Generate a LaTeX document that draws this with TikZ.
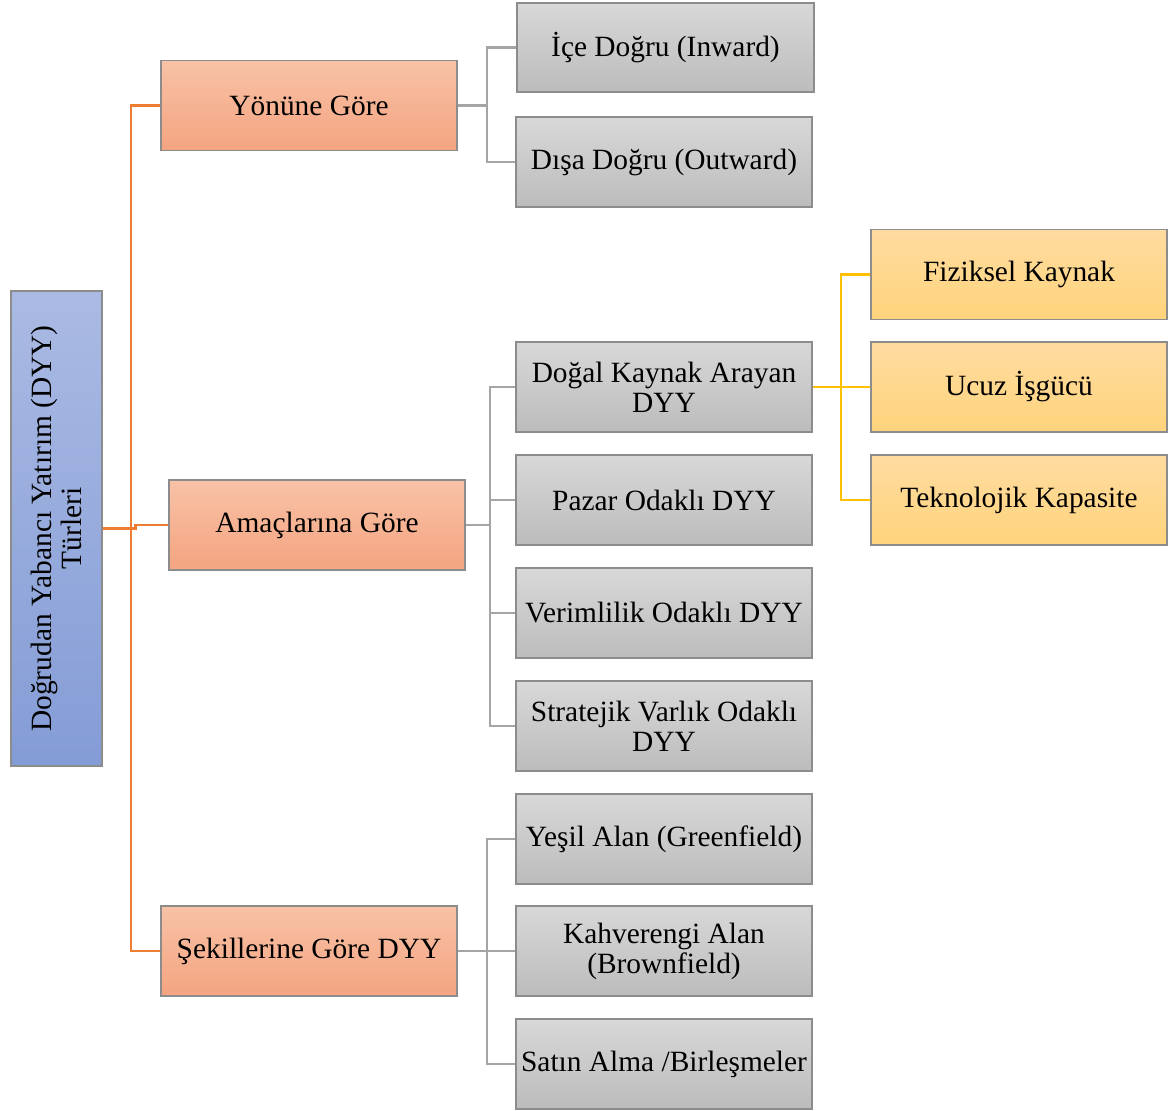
\documentclass[tikz,border=0pt]{standalone}
\usepackage{fontspec}
\setmainfont{Liberation Serif}
\definecolor{bordc}{RGB}{140,140,140}
\definecolor{orTop}{RGB}{248,194,166}
\definecolor{orBot}{RGB}{244,164,128}
\definecolor{grTop}{RGB}{216,216,216}
\definecolor{grBot}{RGB}{188,188,188}
\definecolor{yeTop}{RGB}{255,219,160}
\definecolor{yeBot}{RGB}{255,212,124}
\definecolor{blTop}{RGB}{170,186,227}
\definecolor{blBot}{RGB}{132,156,214}
\definecolor{oLine}{RGB}{237,125,49}
\definecolor{gLine}{RGB}{165,165,165}
\definecolor{yLine}{RGB}{255,192,0}
\tikzset{
  box/.style={draw=bordc, line width=1.5pt, minimum width=296pt, minimum height=90pt,
    align=center, inner sep=2pt, font=\fontsize{29.4}{30}\selectfont},
  obox/.style={box, top color=orTop, bottom color=orBot},
  gbox/.style={box, top color=grTop, bottom color=grBot},
  ybox/.style={box, top color=yeTop, bottom color=yeBot},
  rbox/.style={box, rotate=90, minimum width=475pt, minimum height=91pt,
    top color=blTop, bottom color=blBot},
  oline/.style={draw=oLine, line width=2.8pt},
  gline/.style={draw=gLine, line width=2.8pt},
  yline/.style={draw=yLine, line width=2.8pt},
}
\begin{document}
\begin{tikzpicture}[x=1pt,y=-1pt]
\useasboundingbox (0,0) rectangle (1176,1111);
% root
\node[rbox] (root) at (56.5,528.5) {Doğrudan Yabancı Yatırım (DYY)\\Türleri};
% level 1
\node[obox] (yon) at (309,105.5) {Yönüne Göre};
\node[obox] (ama) at (317,525) {Amaçlarına Göre};
\node[obox] (sek) at (309,951) {Şekillerine Göre DYY};
% level 2
\node[gbox, minimum width=297pt, minimum height=89pt] (ice) at (665.5,47.5) {İçe Doğru (Inward)};
\node[gbox] (dis) at (664,162) {Dışa Doğru (Outward)};
\node[gbox] (dog) at (664,387) {Doğal Kaynak Arayan\\DYY};
\node[gbox] (paz) at (664,500) {Pazar Odaklı DYY};
\node[gbox] (ver) at (664,613) {Verimlilik Odaklı DYY};
\node[gbox] (str) at (664,726) {Stratejik Varlık Odaklı\\DYY};
\node[gbox] (yes) at (664,839) {Yeşil Alan (Greenfield)};
\node[gbox] (kah) at (664,951) {Kahverengi Alan\\(Brownfield)};
\node[gbox] (sat) at (664,1064) {Satın Alma /Birleşmeler};
% level 3
\node[ybox] (fiz) at (1019,274.5) {Fiziksel Kaynak};
\node[ybox] (ucu) at (1019,387) {Ucuz İşgücü};
\node[ybox] (tek) at (1019,500) {Teknolojik Kapasite};
% coordinates of trunks
\coordinate (ox) at (131,0);
\coordinate (gx1) at (487,0);
\coordinate (gx2) at (490,0);
\coordinate (gx3) at (487,0);
\coordinate (yx) at (841,0);
% orange connectors
\draw[oline] (yon.west) -| (sek.west -| ox) -- (sek.west);
\draw[oline] (root.south) -- ++(33,0) |- (ama.west);
% gray connectors: Yönüne Göre
\draw[gline] (yon.east) -- (yon.east -| gx1);
\draw[gline] (ice.west) -| (dis.west -| gx1) -- (dis.west);
% Amaçlarına Göre
\draw[gline] (ama.east) -- (ama.east -| gx2);
\draw[gline] (dog.west) -| (str.west -| gx2) -- (str.west);
\draw[gline] (paz.west) -- (paz.west -| gx2);
\draw[gline] (ver.west) -- (ver.west -| gx2);
% Şekillerine Göre
\draw[gline] (sek.east) -- (kah.west);
\draw[gline] (yes.west) -| (sat.west -| gx3) -- (sat.west);
% yellow connectors
\draw[yline] (dog.east) -- (ucu.west);
\draw[yline] (fiz.west) -| (tek.west -| yx) -- (tek.west);
\end{tikzpicture}
\end{document}
